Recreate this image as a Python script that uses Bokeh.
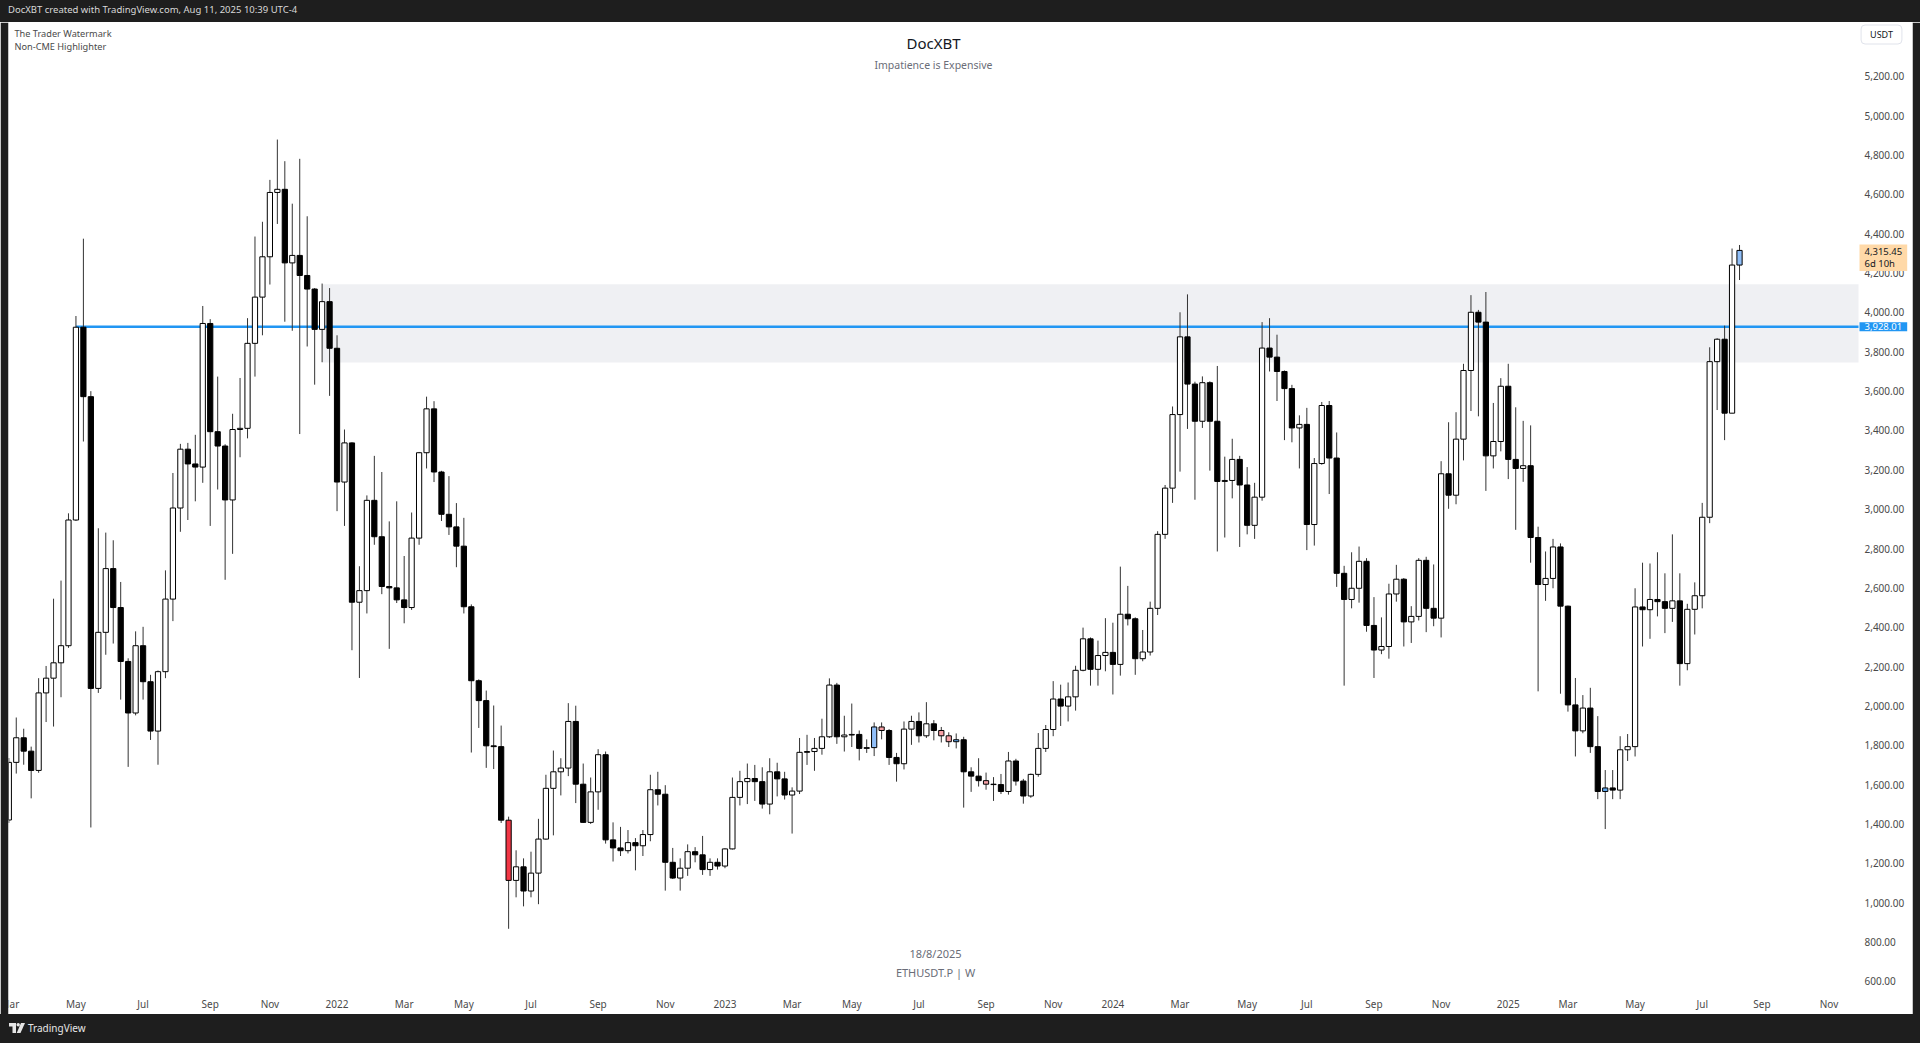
import pandas as pd
from bokeh.plotting import figure
from bokeh.models import (ColumnDataSource, FixedTicker, Label, Div, Range1d,
                          NumeralTickFormatter, LinearAxis)
from bokeh.layouts import column
from bokeh.embed import file_html
from bokeh.resources import INLINE

# ---------------- data (ETHUSDT.P weekly) ----------------
start_week = "2021-03-01"

opens = [
    1420, 1713, 1838, 1770, 1672, 2066, 2141, 2219, 2306, 2945,
    3925, 3572, 2089, 2374, 2698, 2500, 2226, 1964, 2306, 2123,
    1872, 2174, 2543, 3006, 3305, 3230, 3214, 3944, 3394, 3321,
    3047, 3405, 3411, 3843, 4078, 4283, 4610, 4626, 4252, 4290,
    4188, 4119, 3914, 4055, 3818, 3138, 3337, 2527, 2586, 3045,
    2860, 2607, 2600, 2539, 2500, 2853, 3287, 3510, 3189, 2974,
    2910, 2812, 2504, 2128, 2027, 1797, 1793, 1419, 1113, 1182,
    1059, 1150, 1323, 1581, 1665, 1684, 1921, 1602, 1408, 1563,
    1752, 1319, 1278, 1264, 1305, 1289, 1346, 1574, 1551, 1205,
    1125, 1175, 1259, 1243, 1168, 1205, 1186, 1273, 1535, 1615,
    1631, 1615, 1501, 1665, 1629, 1547, 1567, 1764, 1768, 1784,
    1843, 2106, 1843, 1852, 1855, 1784, 1788, 1893, 1875, 1738,
    1706, 1882, 1921, 1848, 1909, 1875, 1848, 1818, 1828, 1665,
    1643, 1620, 1602, 1600, 1565, 1720, 1618, 1542, 1652, 1784,
    1880, 2035, 1999, 2046, 2181, 2341, 2186, 2256, 2272, 2211,
    2466, 2443, 2240, 2274, 2496, 2872, 3107, 3481, 3876, 3636,
    3447, 3643, 3447, 3141, 3146, 3253, 3123, 2918, 3061, 3819,
    3773, 3700, 3613, 3413, 3431, 2922, 3232, 3527, 3260, 2674,
    2541, 2598, 2735, 2409, 2284, 2302, 2569, 2644, 2427, 2455,
    2740, 2496, 2446, 3180, 3071, 3356, 3705, 4001, 3951, 3271,
    3344, 3625, 3253, 3207, 3221, 2856, 2617, 2648, 2808, 2507,
    2005, 1873, 1989, 1793, 1565, 1583, 1572, 1777, 1793, 2503,
    2489, 2541, 2530, 2496, 2534, 2215, 2491, 2560, 2959, 3750,
    3864, 3488, 4241,
]
highs = [
    1735, 1941, 1884, 1793, 2141, 2203, 2545, 2637, 2979, 3982,
    4375, 3600, 2903, 2881, 2842, 2630, 2242, 2379, 2402, 2158,
    2180, 2689, 3184, 3332, 3337, 3378, 4033, 3966, 3674, 3330,
    3485, 3667, 3971, 4386, 4461, 4674, 4879, 4769, 4553, 4781,
    4489, 4124, 4147, 4124, 3884, 3405, 3340, 2710, 3070, 3271,
    3189, 2938, 3040, 2762, 2983, 3291, 3572, 3549, 3195, 3168,
    3031, 2956, 2516, 2135, 2078, 2002, 1900, 1437, 1266, 1225,
    1259, 1426, 1650, 1773, 1734, 2014, 2001, 1707, 1636, 1780,
    1768, 1408, 1385, 1369, 1328, 1369, 1650, 1665, 1597, 1278,
    1225, 1296, 1282, 1339, 1225, 1225, 1276, 1636, 1670, 1707,
    1700, 1688, 1734, 1711, 1665, 1586, 1837, 1853, 1837, 1935,
    2140, 2117, 1950, 2012, 1875, 1830, 1916, 1916, 1882, 1761,
    1921, 1950, 1967, 2019, 1928, 1893, 1866, 1860, 1843, 1688,
    1734, 1661, 1638, 1654, 1766, 1731, 1629, 1656, 1862, 1903,
    2126, 2108, 2119, 2204, 2398, 2348, 2332, 2446, 2423, 2708,
    2610, 2450, 2386, 2530, 2888, 3123, 3522, 4001, 4092, 3648,
    3675, 3650, 3728, 3267, 3358, 3271, 3214, 3134, 3951, 3971,
    3887, 3705, 3632, 3477, 3515, 3260, 3545, 3550, 3390, 2712,
    2781, 2810, 2751, 2553, 2450, 2621, 2717, 2650, 2507, 2751,
    2758, 2719, 3244, 3442, 3493, 3739, 4088, 4013, 4104, 3540,
    3666, 3739, 3518, 3449, 3426, 2911, 2785, 2849, 2826, 2510,
    2142, 2055, 2092, 1948, 1674, 1674, 1846, 1857, 2598, 2728,
    2724, 2781, 2674, 2872, 2674, 2519, 2628, 3032, 3823, 3869,
    3933, 4325, 4343,
]
lows = [
    1405, 1656, 1701, 1530, 1660, 1918, 1895, 2044, 2295, 2940,
    3344, 1382, 2066, 2260, 2317, 2032, 1690, 1952, 2032, 1827,
    1701, 2141, 2431, 2885, 2945, 3040, 3134, 2915, 3100, 2641,
    2773, 3264, 3360, 3674, 3884, 4142, 4450, 3953, 3907, 3382,
    3827, 3633, 3747, 3576, 2990, 2915, 2283, 2142, 2470, 2819,
    2568, 2290, 2523, 2420, 2488, 2819, 3207, 3138, 2940, 2869,
    2705, 2470, 1763, 1888, 1685, 1679, 1405, 867, 1027, 981,
    1027, 992, 1320, 1342, 1545, 1643, 1506, 1405, 1400, 1472,
    1300, 1209, 1237, 1250, 1164, 1237, 1312, 1494, 1061, 1120,
    1061, 1136, 1205, 1141, 1136, 1168, 1175, 1270, 1494, 1501,
    1517, 1478, 1449, 1540, 1524, 1351, 1552, 1700, 1670, 1752,
    1837, 1807, 1768, 1791, 1723, 1761, 1745, 1830, 1700, 1615,
    1677, 1802, 1814, 1837, 1825, 1814, 1791, 1784, 1483, 1563,
    1590, 1574, 1517, 1552, 1549, 1595, 1503, 1533, 1640, 1766,
    1846, 1898, 1921, 1976, 2176, 2103, 2103, 2176, 2058, 2154,
    2409, 2158, 2227, 2256, 2462, 2849, 3032, 3191, 3408, 3048,
    3413, 3196, 2785, 2856, 3055, 2808, 2872, 2849, 3043, 3700,
    3550, 3351, 3340, 3207, 2792, 2815, 3226, 3077, 2605, 2103,
    2496, 2525, 2377, 2142, 2263, 2240, 2530, 2302, 2320, 2434,
    2375, 2405, 2348, 3002, 3025, 3248, 3499, 3472, 3093, 3207,
    3294, 3153, 2895, 3139, 2728, 2074, 2534, 2598, 2062, 1971,
    1743, 1861, 1761, 1526, 1374, 1526, 1526, 1720, 1743, 2302,
    2341, 2455, 2370, 2427, 2103, 2181, 2363, 2496, 2929, 3504,
    3351, 3488, 4165,
]
closes = [
    1713, 1838, 1770, 1672, 2066, 2141, 2219, 2306, 2945, 3925,
    3572, 2089, 2374, 2698, 2500, 2226, 1964, 2306, 2123, 1872,
    2174, 2543, 3006, 3305, 3230, 3214, 3944, 3394, 3321, 3047,
    3405, 3411, 3843, 4078, 4283, 4610, 4626, 4252, 4290, 4188,
    4119, 3914, 4055, 3818, 3138, 3337, 2527, 2586, 3045, 2860,
    2607, 2600, 2539, 2500, 2853, 3287, 3510, 3189, 2974, 2910,
    2812, 2504, 2128, 2027, 1797, 1793, 1419, 1113, 1182, 1059,
    1150, 1323, 1581, 1665, 1684, 1921, 1602, 1408, 1563, 1752,
    1319, 1278, 1264, 1305, 1289, 1346, 1574, 1551, 1205, 1125,
    1175, 1259, 1243, 1168, 1205, 1186, 1273, 1535, 1615, 1631,
    1615, 1501, 1665, 1629, 1547, 1567, 1764, 1768, 1784, 1843,
    2106, 1843, 1852, 1855, 1784, 1788, 1893, 1875, 1738, 1706,
    1882, 1921, 1848, 1909, 1875, 1848, 1818, 1828, 1665, 1643,
    1620, 1602, 1600, 1565, 1720, 1618, 1542, 1652, 1784, 1880,
    2035, 1999, 2046, 2181, 2341, 2186, 2256, 2272, 2211, 2466,
    2443, 2240, 2274, 2496, 2872, 3107, 3481, 3876, 3636, 3447,
    3643, 3447, 3141, 3146, 3253, 3123, 2918, 3061, 3819, 3773,
    3700, 3613, 3413, 3431, 2922, 3232, 3527, 3260, 2674, 2541,
    2598, 2735, 2409, 2284, 2302, 2569, 2644, 2427, 2455, 2740,
    2496, 2446, 3180, 3071, 3356, 3705, 4001, 3951, 3271, 3344,
    3625, 3253, 3207, 3221, 2856, 2617, 2648, 2808, 2507, 2005,
    1873, 1989, 1793, 1565, 1583, 1572, 1777, 1793, 2503, 2489,
    2541, 2530, 2496, 2534, 2215, 2491, 2560, 2959, 3750, 3864,
    3488, 4241, 4315.45,
]

price_ticks = [600, 800, 1000, 1200, 1400, 1600, 1800, 2000, 2200, 2400, 2600, 2800,
               3000, 3200, 3400, 3600, 3800, 4000, 4200, 4400, 4600, 4800, 5000, 5200]

level_price = 3928.01          # horizontal level
level_start = "2021-05-03"
zone_low, zone_high = 3746, 4143   # grey zone
zone_start = "2021-12-20"
last_price = 4315.45
countdown = "6d 10h"

# weeks singled out by the "Non-CME Highlighter"
highlights = {
    "2022-06-13": "#f23645",
    "2023-05-22": "#90bff9",
    "2023-05-29": "#f7a1a6",
    "2023-07-24": "#f7a1a6",
    "2023-07-31": "#f7a1a6",
    "2023-08-07": "#5ea9f2",
    "2023-09-04": "#f7a1a6",
    "2025-04-07": "#5ea9f2",
    "2025-08-11": "#90bff9",
}

# ---------------- derived ----------------
weeks = pd.date_range(start_week, periods=len(closes), freq="7D")
week_keys = [d.strftime("%Y-%m-%d") for d in weeks]
idx = list(range(len(closes)))
fills = []
for k, o, c in zip(week_keys, opens, closes):
    if k in highlights:
        fills.append(highlights[k])
    else:
        fills.append("#ffffff" if c >= o else "#000000")

src = ColumnDataSource(dict(
    x=idx, open=opens, high=highs, low=lows, close=closes,
    top=[max(o, c) for o, c in zip(opens, closes)],
    bottom=[min(o, c) for o, c in zip(opens, closes)],
    fill=fills,
))

FONT = "Noto Sans"
DARK = "#1e1e1e"
W = 1920
H = 992
SIDE = 8                 # dark side strips
FRAME_W = W - 2 * SIDE   # 1904
PANE_W = 1850            # candle pane width; price scale to its right
BAR_PX = 7.46
x_start = -0.04
x_end = x_start + FRAME_W / BAR_PX
pane_end = x_start + PANE_W / BAR_PX

# vertical scale: 0.19672 px per USD, pane bottom at 971 px below the top
y_top = 5474.0
y_bottom = 431.3
pane_bottom_price = 538.0

# month ticks at the first weekly bar of every odd month
tick_weeks = pd.date_range(start_week, periods=260, freq="7D")
month_ticks, month_labels = [], {}
for i, d in enumerate(tick_weeks):
    if i > pane_end - 1:
        break
    if d.day <= 7 and d.month % 2 == 1:
        month_ticks.append(i)
        month_labels[i] = str(d.year) if d.month == 1 else d.strftime("%b")

p = figure(width=W, height=H, output_backend="svg", toolbar_location=None, tools="",
           x_range=Range1d(x_start, x_end), y_range=Range1d(y_bottom, y_top),
           x_axis_location=None, y_axis_location=None, title=None,
           min_border_left=SIDE, min_border_right=SIDE, min_border_top=0, min_border_bottom=0,
           background_fill_color="#ffffff", border_fill_color=DARK, outline_line_color=None)
p.grid.visible = False

# zone and level
zi = week_keys.index(zone_start)
li = week_keys.index(level_start)
p.quad(left=[zi], right=[pane_end], bottom=[zone_low], top=[zone_high],
       fill_color="#eff0f3", line_color=None)
p.segment(x0=[li], y0=[level_price], x1=[pane_end], y1=[level_price],
          line_color="#2196f3", line_width=2.5)

# candles
p.segment(x0="x", y0="low", x1="x", y1="high", source=src, line_color="#333333", line_width=1)
p.vbar(x="x", width=0.7, top="top", bottom="bottom", source=src,
       fill_color="fill", line_color="#000000", line_width=1)


def style_axis(ax, standoff):
    ax.axis_line_color = None
    ax.major_tick_line_color = None
    ax.minor_tick_line_color = None
    ax.major_tick_out = 0
    ax.major_tick_in = 0
    ax.minor_tick_out = 0
    ax.minor_tick_in = 0
    ax.major_label_standoff = standoff
    ax.major_label_text_font = FONT
    ax.major_label_text_font_size = "10px"
    ax.major_label_text_color = "#4a4a4a"


# price scale (drawn at the pane's right edge)
ya = LinearAxis(fixed_location=pane_end,
                ticker=FixedTicker(ticks=price_ticks, minor_ticks=[]),
                formatter=NumeralTickFormatter(format="0,0.00"))
style_axis(ya, 6)
p.add_layout(ya, "right")

# time scale (drawn at the pane's bottom edge)
xa = LinearAxis(fixed_location=pane_bottom_price,
                ticker=FixedTicker(ticks=month_ticks, minor_ticks=[]))
xa.major_label_overrides = month_labels
style_axis(xa, 3)
p.add_layout(xa, "below")


def add_label(**kw):
    extra = {k: kw.pop(k) for k in ("padding", "border_radius", "text_line_height") if k in kw}
    lab = Label(text_font=FONT, **kw)
    props = lab.properties()
    for k, v in extra.items():
        if k in props:
            setattr(lab, k, v)
    p.add_layout(lab)
    return lab


def sy(page_y):
    # frame-relative screen y (from the bottom) for a page y; frame spans page 22..1014
    return 1014 - page_y + 1.5


# texts on the pane
add_label(x=6, y=sy(34), x_units="screen", y_units="screen", text="The Trader Watermark",
          text_font_size="9.2px", text_color="#4a4a4a", text_baseline="middle")
add_label(x=6, y=sy(47), x_units="screen", y_units="screen", text="Non-CME Highlighter",
          text_font_size="9.2px", text_color="#4a4a4a", text_baseline="middle")
add_label(x=PANE_W / 2, y=sy(44), x_units="screen", y_units="screen", text="DocXBT",
          text_font_size="15px", text_color="#131722", text_align="center", text_baseline="middle")
add_label(x=PANE_W / 2, y=sy(66), x_units="screen", y_units="screen", text="Impatience is Expensive",
          text_font_size="10.5px", text_color="#6a6d78", text_align="center", text_baseline="middle")
add_label(x=PANE_W / 2 + 2, y=sy(954), x_units="screen", y_units="screen", text="18/8/2025",
          text_font_size="11px", text_color="#6a6d78", text_align="center", text_baseline="middle")
add_label(x=PANE_W / 2 + 2, y=sy(973), x_units="screen", y_units="screen", text="ETHUSDT.P | W",
          text_font_size="11px", text_color="#6a6d78", text_align="center", text_baseline="middle")

# price-scale labels
add_label(x=PANE_W + 23, y=sy(35.5), x_units="screen", y_units="screen", text="USDT",
          text_font_size="9px", text_color="#131722", text_align="center", text_baseline="middle",
          background_fill_color="#ffffff", border_line_color="#e0e3eb", border_line_width=1,
          padding=(9, 3), border_radius=4)
add_label(x=PANE_W + 1, y=last_price, x_units="screen", y_units="data",
          text=f"{last_price:,.2f}\n{countdown}", text_font_size="9.5px", text_color="#131722",
          text_align="left", text_baseline="top", y_offset=6, text_line_height=0.9,
          background_fill_color="#ffd9a8", padding=(5, 1))
add_label(x=PANE_W + 1, y=level_price, x_units="screen", y_units="data",
          text=f"{level_price:,.2f}", text_font_size="9.5px", text_color="#ffffff",
          text_align="left", text_baseline="middle",
          background_fill_color="#2196f3", padding=(5, 1))

header = Div(text="DocXBT created with TradingView.com, Aug 11, 2025 10:39 UTC-4",
             width=W, height=22, margin=0,
             styles={"background-color": DARK, "color": "#d9d9d9", "font-family": FONT,
                     "font-size": "9.5px", "line-height": "20px", "white-space": "nowrap",
                     "overflow": "hidden", "padding-left": "8px", "box-sizing": "border-box"})
logo = ('<svg width="16" height="10" viewBox="0 0 16 10" style="vertical-align:-1px;margin-right:3px">'
        '<path d="M0 0h7v10h-3.5v-6.5h-3.5z" fill="#e6e6e6"/>'
        '<circle cx="9.2" cy="1.7" r="1.7" fill="#e6e6e6"/>'
        '<path d="M12 0h4l-4.5 10h-3.8z" fill="#e6e6e6"/></svg>')
footer = Div(text=f'{logo}TradingView', width=W, height=29, margin=0,
             styles={"background-color": DARK, "color": "#e6e6e6", "font-family": FONT,
                     "font-size": "10px", "line-height": "28px", "white-space": "nowrap",
                     "overflow": "hidden", "padding-left": "9px", "box-sizing": "border-box"})

layout = column(header, p, footer, spacing=0)
open("out.html", "w").write(file_html(layout, INLINE))
